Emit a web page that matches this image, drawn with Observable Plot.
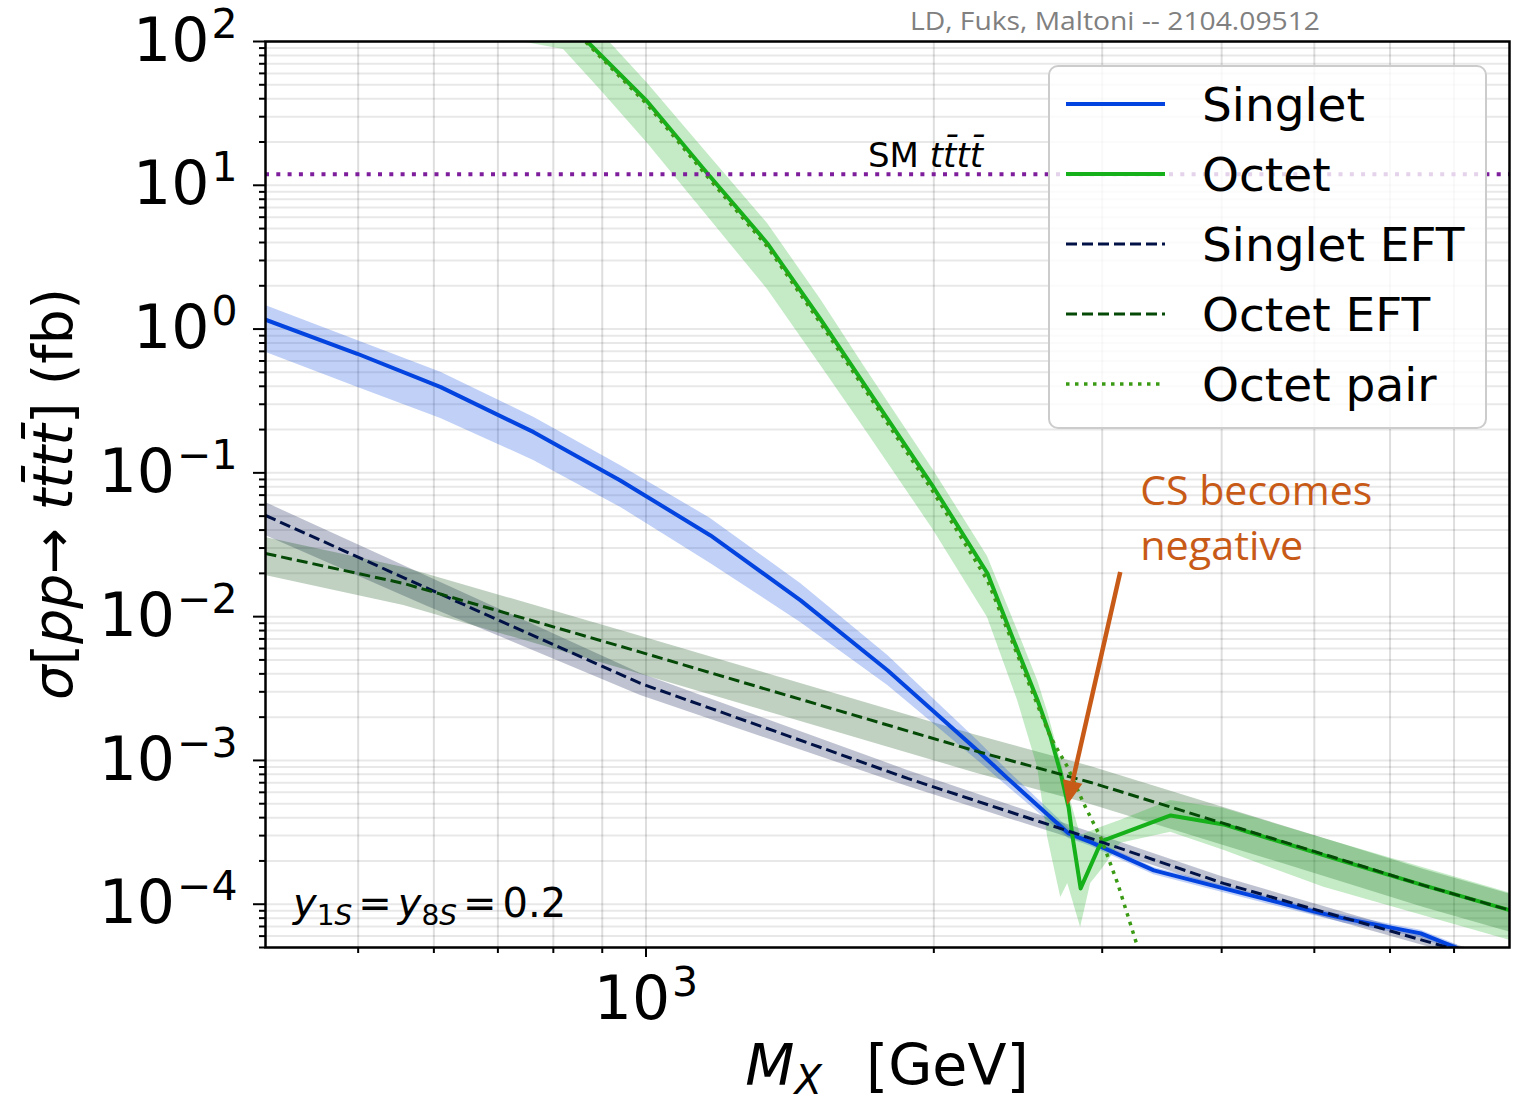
<!DOCTYPE html>
<html>
<head>
<meta charset="utf-8">
<script src="https://cdn.jsdelivr.net/npm/d3@7"></script>
<script src="https://cdn.jsdelivr.net/npm/@observablehq/plot@0.6"></script>
<style>
html,body{margin:0;padding:0;background:#fff;}
#chart svg{display:block;}
</style>
</head>
<body>
<div id="chart"></div>
<script>
// ---------------- data ----------------
const singletMass = [400, 499, 610, 763, 940, 1168, 1451, 1790, 2222, 2389, 2767, 2918, 3397, 4019, 5040, 5366, 6461, 7062];
const singletXS   = [1.161, 0.6734, 0.3944, 0.1919, 0.08855, 0.03671, 0.01297, 0.004224, 0.001174, 7.50e-4, 3.108e-4, 2.703e-4, 1.718e-4, 1.288e-4, 8.77e-5, 7.97e-5, 6.27e-5, 4.93e-5];
const singletHi   = [1.459, 0.8332, 0.5016, 0.2439, 0.1126, 0.04818, 0.01702, 0.005373, 0.001377, 8.52e-4, 3.37e-4, 2.84e-4, 1.80e-4, 1.35e-4, 9.2e-5, 8.4e-5, 6.6e-5, 5.2e-5];
const singletLo   = [0.6909, 0.3944, 0.2389, 0.1220, 0.05774, 0.02344, 0.009114, 0.003322, 0.001, 6.60e-4, 2.87e-4, 2.53e-4, 1.60e-4, 1.20e-4, 8.2e-5, 7.4e-5, 5.85e-5, 4.6e-5];

const octetMass = [814, 868, 1003, 1159, 1339, 1523, 1689, 1999, 2276, 2424, 2568, 2650, 2715, 2767, 2794, 2848, 2975, 3011, 3538, 4019, 5366, 6508, 8020];
const octetXS   = [154.1, 100, 38.26, 12.14, 3.957, 1.166, 0.4185, 0.07916, 0.01997, 0.006833, 0.002615, 0.001445, 8.119e-4, 4.711e-4, 2.914e-4, 1.288e-4, 2.483e-4, 2.778e-4, 4.145e-4, 3.589e-4, 1.985e-4, 1.351e-4, 9.054e-5];

const octetBandMass = [739, 820, 903, 1004, 1160, 1340, 1523, 1689, 1999, 2276, 2447, 2568, 2631, 2715, 2761, 2848, 2918, 2989, 3137, 3538, 4019, 5116, 8020];
const octetHi       = [504, 226, 110, 51.0, 16.6, 5.43, 1.606, 0.558, 0.104, 0.0262, 0.00802, 0.0036, 0.00216, 0.001, 6.18e-4, 3.01e-4, 3.2e-4, 3.42e-4, 3.83e-4, 5.27e-4, 4.64e-4, 2.87e-4, 1.19e-4];
const octetLo       = [100, 88.0, 43.5, 19.5, 6.07, 1.885, 0.558, 0.207, 0.0398, 0.00987, 0.002615, 8.94e-4, 2.91e-4, 1.115e-4, 1.395e-4, 6.9e-5, 1.395e-4, 1.7e-4, 2.65e-4, 3.16e-4, 2.37e-4, 1.31e-4, 5.6e-5];

const singletEFTMass = [400, 591, 987, 1878, 2918, 4019, 6780, 8020];
const singletEFTXS   = [0.05055, 0.01571, 0.00343, 7.496e-4, 2.868e-4, 1.395e-4, 5.17e-5, 3.753e-5];
const singletEFTHi   = [0.0622, 0.01904, 0.004027, 8.52e-4, 3.16e-4, 1.54e-4, 5.6e-5, 4.06e-5];
const singletEFTLo   = [0.0367, 0.01178, 0.00283, 6.59e-4, 2.60e-4, 1.27e-4, 4.77e-5, 3.47e-5];

const octetEFTMass = [400, 558, 987, 2201, 2918, 4019, 5366, 6508, 8020];
const octetEFTXS   = [0.02751, 0.01702, 0.005664, 0.001174, 7.03e-4, 3.648e-4, 2.017e-4, 1.351e-4, 9.054e-5];
const octetEFTHi   = [0.03554, 0.02199, 0.007317, 0.001517, 9.08e-4, 4.71e-4, 2.606e-4, 1.745e-4, 1.17e-4];
const octetEFTLo   = [0.01934, 0.01197, 0.003982, 8.25e-4, 4.94e-4, 2.565e-4, 1.418e-4, 9.50e-5, 6.37e-5];

const octetPairMass = [814, 868, 1003, 1159, 1339, 1523, 1689, 1999, 2276, 2424, 2568, 2650, 2761, 2869, 2989, 3114, 3268, 3372];
const octetPairXS   = [149.2, 96.85, 36.47, 11.51, 3.753, 1.094, 0.3925, 0.07308, 0.01785, 0.006306, 0.002413, 0.001445, 8.94e-4, 5.023e-4, 2.914e-4, 1.395e-4, 5.008e-5, 2.516e-5];

const smXS = [11.95];

const xMajorTicks = [1000];
const xMinorTicks = [500, 600, 700, 800, 900, 2000, 3000, 4000, 5000, 6000, 7000];
const yMajorTicks = [1e-4, 1e-3, 1e-2, 1e-1, 1, 10, 100];

const legendNames = ["Singlet", "Octet", "Singlet EFT", "Octet EFT", "Octet pair"];

// annotation anchors (data coordinates)
const csTextAt = [3292, 0.05934];
const csArrowFrom = [3137, 0.02029];
const csArrowTo = [2761, 4.865e-4];
const smLabelAt = [1709, 11.95];

// ---------------- styles ----------------
const C = {
  singlet: "#0343df", octet: "#15b01a", sEFT: "#001146", oEFT: "#054907",
  pair: "#3a9a14", sm: "#7e1e9c", cs: "#c85a17"
};

const rows = (m, v, hi, lo) => m.map((x, i) => ({x, y: v ? v[i] : null, hi: hi ? hi[i] : null, lo: lo ? lo[i] : null}));
const singlet = rows(singletMass, singletXS, singletHi, singletLo);
const octet = rows(octetMass, octetXS);
const octetBand = rows(octetBandMass, null, octetHi, octetLo);
const sEFT = rows(singletEFTMass, singletEFTXS, singletEFTHi, singletEFTLo);
const oEFT = rows(octetEFTMass, octetEFTXS, octetEFTHi, octetEFTLo);
const pair = rows(octetPairMass, octetPairXS);

const yMinorTicks = [];
for (let e = -5; e <= 1; e++) for (let k = 2; k <= 9; k++) {
  const v = +(k * Math.pow(10, e)).toPrecision(3);
  if (v >= 5e-5 - 1e-12 && v <= 100) yMinorTicks.push(v);
}
const fmtPow = d => "10^" + Math.round(Math.log10(d));

const chart = Plot.plot({
  width: 1514, height: 1102,
  marginLeft: 265, marginRight: 5, marginTop: 41, marginBottom: 155,
  style: {fontFamily: "DejaVu Sans", background: "#fff", color: "#000"},
  x: {type: "log", domain: [400, 8000]},
  y: {type: "log", domain: [5e-5, 100]},
  marks: [
    Plot.ruleY(yMinorTicks.concat(yMajorTicks), {stroke: "#000", strokeOpacity: 0.09, strokeWidth: 2}),
    Plot.ruleX(xMinorTicks.concat(xMajorTicks), {stroke: "#000", strokeOpacity: 0.13, strokeWidth: 2}),
    // bands
    Plot.areaY(sEFT, {x: "x", y1: "lo", y2: "hi", fill: C.sEFT, fillOpacity: 0.25, clip: true}),
    Plot.areaY(oEFT, {x: "x", y1: "lo", y2: "hi", fill: C.oEFT, fillOpacity: 0.25, clip: true}),
    Plot.areaY(singlet, {x: "x", y1: "lo", y2: "hi", fill: C.singlet, fillOpacity: 0.25, clip: true}),
    Plot.areaY(octetBand, {x: "x", y1: "lo", y2: "hi", fill: C.octet, fillOpacity: 0.25, clip: true}),
    // lines
    Plot.line(singlet, {x: "x", y: "y", stroke: C.singlet, strokeWidth: 4, clip: true}),
    Plot.line(octet, {x: "x", y: "y", stroke: C.octet, strokeWidth: 4, clip: true}),
    Plot.line(sEFT, {x: "x", y: "y", stroke: C.sEFT, strokeWidth: 3, strokeDasharray: "11,5", strokeLinecap: "butt", clip: true}),
    Plot.line(oEFT, {x: "x", y: "y", stroke: C.oEFT, strokeWidth: 3, strokeDasharray: "11,5", strokeLinecap: "butt", clip: true}),
    Plot.line(pair, {x: "x", y: "y", stroke: C.pair, strokeWidth: 3.5, strokeDasharray: "3.5,5.5", strokeLinecap: "butt", clip: true}),
    Plot.ruleY(smXS, {stroke: C.sm, strokeWidth: 4, strokeDasharray: "4,7.3"}),
    // axes
    Plot.axisY(yMinorTicks, {tickSize: 6, tickFormat: () => "", strokeWidth: 2, label: null}),
    Plot.axisY(yMajorTicks, {tickSize: 12, tickPadding: 16, fontSize: 60, tickFormat: fmtPow, strokeWidth: 2, label: null}),
    Plot.axisX(xMinorTicks, {tickSize: 6, tickFormat: () => "", strokeWidth: 2, label: null}),
    Plot.axisX(xMajorTicks, {tickSize: 10, tickPadding: 19, fontSize: 60, tickFormat: fmtPow, strokeWidth: 2, label: null}),
    Plot.frame({stroke: "#000", strokeWidth: 2.5})
  ]
});
document.getElementById("chart").appendChild(chart);

// ---------- post-processing: math-style labels and annotations ----------
const svg = d3.select(chart);
svg.selectAll("text").each(function() {
  const m = /^10\^(-?\d+)$/.exec(this.textContent);
  if (!m) return;
  const s = d3.select(this).attr("font-size", 60);
  s.text("10");
  s.append("tspan").attr("dy", -23).attr("dx", 2).attr("font-size", 41).text(m[1].replace("-", "\u2212"));
});

const xsc = chart.scale("x"), ysc = chart.scale("y");
const X = d3.scaleLog().domain(xsc.domain).range(xsc.range);
const Y = d3.scaleLog().domain(ysc.domain).range(ysc.range);
const [fx0, fx1] = xsc.range, [fy1, fy0] = ysc.range; // fy1 bottom, fy0 top

const g = svg.append("g").attr("font-family", "DejaVu Sans").attr("text-anchor", "start").attr("fill", "#000");

// SM label
const sm = g.append("text").attr("x", X(smLabelAt[0])).attr("y", Y(smLabelAt[1]) - 7).attr("font-size", 34);
sm.append("tspan").text("SM ");
sm.append("tspan").attr("font-style", "italic").text("tt\u0304tt\u0304");

// y1S = y8S = 0.2
const yy = g.append("text").attr("x", fx0 + 28).attr("y", fy1 - 30).attr("font-size", 40);
yy.append("tspan").attr("font-style", "italic").text("y");
yy.append("tspan").attr("font-size", 28).attr("dy", 8).text("1");
yy.append("tspan").attr("font-size", 28).attr("font-style", "italic").text("S");
yy.append("tspan").attr("dy", -8).attr("dx", 6).text("=");
yy.append("tspan").attr("dx", 6).attr("font-style", "italic").text("y");
yy.append("tspan").attr("font-size", 28).attr("dy", 8).text("8");
yy.append("tspan").attr("font-size", 28).attr("font-style", "italic").text("S");
yy.append("tspan").attr("dy", -8).attr("dx", 6).text("=");
yy.append("tspan").attr("dx", 6).text("0.2");

// axis titles
const cy = (fy0 + fy1) / 2;
const yl = g.append("text").attr("transform", `translate(72,${cy}) rotate(-90)`).attr("text-anchor", "middle").attr("font-size", 55);
yl.append("tspan").attr("font-style", "italic").text("\u03c3");
yl.append("tspan").text("[");
yl.append("tspan").attr("font-style", "italic").text("pp");
yl.append("tspan").text("\u2192 ");
yl.append("tspan").attr("font-style", "italic").text("tt\u0304tt\u0304");
yl.append("tspan").text("] (fb)");

const xl = g.append("text").attr("x", (fx0 + fx1) / 2).attr("y", 1085).attr("text-anchor", "middle").attr("font-size", 57);
xl.append("tspan").attr("font-style", "italic").text("M");
xl.append("tspan").attr("font-style", "italic").attr("font-size", 40).attr("dy", 9).text("X");
xl.append("tspan").attr("dy", -9).attr("dx", 44).text("[GeV]");

// credit line
g.append("text").attr("x", 910).attr("y", 30).attr("font-family", "Open Sans").attr("font-size", 25)
  .attr("fill", "#808080").attr("textLength", 410).attr("lengthAdjust", "spacingAndGlyphs")
  .text("LD, Fuks, Maltoni -- 2104.09512");

// CS becomes negative
const csx = X(csTextAt[0]), csy = Y(csTextAt[1]);
g.append("text").attr("x", csx).attr("y", csy).attr("font-family", "Open Sans").attr("font-size", 40)
  .attr("fill", C.cs).attr("textLength", 232).attr("lengthAdjust", "spacingAndGlyphs").text("CS becomes");
g.append("text").attr("x", csx).attr("y", csy + 55).attr("font-family", "Open Sans").attr("font-size", 40)
  .attr("fill", C.cs).attr("textLength", 163).attr("lengthAdjust", "spacingAndGlyphs").text("negative");
{
  const sx = X(csArrowFrom[0]), sy = Y(csArrowFrom[1]);
  const tx = X(csArrowTo[0]), ty = Y(csArrowTo[1]);
  const L = Math.hypot(tx - sx, ty - sy), ux = (tx - sx) / L, uy = (ty - sy) / L;
  const bx = tx - ux * 24, by = ty - uy * 24, nx = -uy, ny = ux;
  g.append("line").attr("x1", sx).attr("y1", sy).attr("x2", bx).attr("y2", by)
    .attr("stroke", C.cs).attr("stroke-width", 4.5);
  g.append("polygon").attr("points", `${tx},${ty} ${bx + nx * 10},${by + ny * 10} ${bx - nx * 10},${by - ny * 10}`)
    .attr("fill", C.cs);
}

// legend
const lg = g.append("g");
lg.append("rect").attr("x", 1049).attr("y", 66).attr("width", 437).attr("height", 362).attr("rx", 9)
  .attr("fill", "#fff").attr("fill-opacity", 0.8).attr("stroke", "#cccccc").attr("stroke-width", 2);
const legendStyles = [
  {stroke: C.singlet, w: 4, dash: null},
  {stroke: C.octet, w: 4, dash: null},
  {stroke: C.sEFT, w: 3, dash: "11,5"},
  {stroke: C.oEFT, w: 3, dash: "11,5"},
  {stroke: C.pair, w: 3.5, dash: "3.5,5.5"}
];
legendNames.forEach((name, i) => {
  const y = 104 + 70 * i, st = legendStyles[i];
  const ln = lg.append("line").attr("x1", 1066).attr("x2", 1165).attr("y1", y).attr("y2", y)
    .attr("stroke", st.stroke).attr("stroke-width", st.w);
  if (st.dash) ln.attr("stroke-dasharray", st.dash);
  lg.append("text").attr("x", 1202).attr("y", y + 17).attr("font-size", 47).text(name);
});
</script>
</body>
</html>
